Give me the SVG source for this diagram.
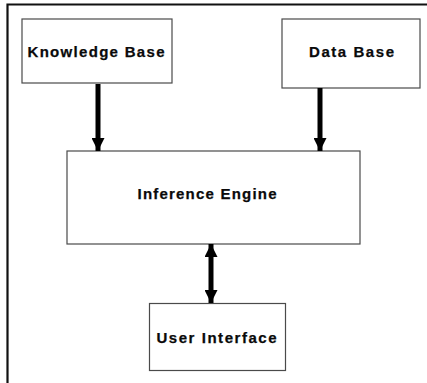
<svg xmlns="http://www.w3.org/2000/svg" width="427" height="383" viewBox="0 0 427 383">
  <style>
    .box { fill: #ffffff; stroke: #4a4a4a; stroke-width: 1.2; }
    .label { font-family: "Liberation Sans", Arial, sans-serif; font-weight: bold; font-size: 15px; fill: #0a0a0a; stroke: #0a0a0a; stroke-width: 0.25; }
    .link { stroke: #000000; stroke-width: 5; fill: none; }
    .frame { stroke: #111111; stroke-width: 2.2; fill: none; }
  </style>
  <defs>
    <marker id="head" viewBox="0 0 13 13" refX="13" refY="6.5" markerWidth="13" markerHeight="13" markerUnits="userSpaceOnUse" orient="auto-start-reverse">
      <path d="M0,0 L13,6.5 L0,13 Z" fill="#000000"/>
    </marker>
  </defs>

  <rect width="427" height="383" fill="#ffffff"/>

  <!-- outer frame: top and left edges only -->
  <path class="frame" d="M7.5,383 L7.5,4.5 L427,4.5"/>

  <g id="knowledge-base">
    <rect class="box" x="22" y="19" width="150" height="64"/>
    <text class="label" x="27.5" y="57.3" textLength="137" lengthAdjust="spacing">Knowledge Base</text>
  </g>

  <g id="data-base">
    <rect class="box" x="282" y="19" width="138" height="69"/>
    <text class="label" x="309" y="57.3" textLength="85" lengthAdjust="spacing">Data Base</text>
  </g>

  <g id="inference-engine">
    <rect class="box" x="67" y="151" width="293" height="93"/>
    <text class="label" x="137.5" y="198.5" textLength="139" lengthAdjust="spacing">Inference Engine</text>
  </g>

  <g id="user-interface">
    <rect class="box" x="149.5" y="303.5" width="136" height="67"/>
    <text class="label" x="156.5" y="343" textLength="120" lengthAdjust="spacing">User Interface</text>
  </g>

  <g id="connectors">
    <line class="link" x1="98" y1="84" x2="98" y2="151" marker-end="url(#head)"/>
    <line class="link" x1="320" y1="88" x2="320" y2="151" marker-end="url(#head)"/>
    <line class="link" x1="211" y1="244" x2="211" y2="303" marker-start="url(#head)" marker-end="url(#head)"/>
  </g>
</svg>
